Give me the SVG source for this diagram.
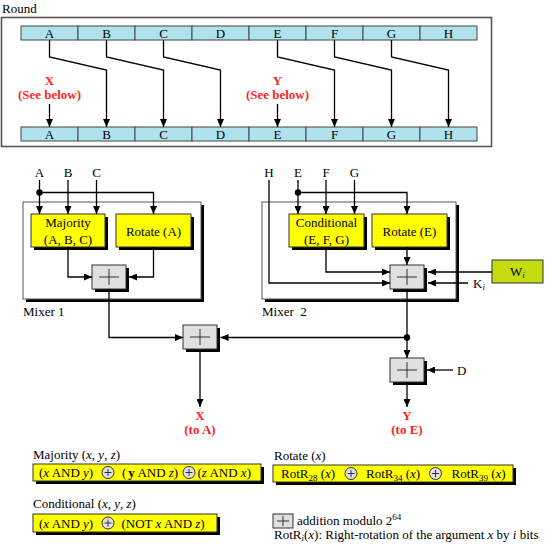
<svg xmlns="http://www.w3.org/2000/svg" width="550" height="553" viewBox="0 0 550 553">
<style>
text{font-family:"Liberation Serif","Times New Roman",serif;font-size:13px;fill:#000}
.c{text-anchor:middle}
.red{fill:#ff1f1f;font-weight:bold}
.reg{fill:#b0e2ec;stroke:#444;stroke-width:1}
.ln{fill:none;stroke:#000;stroke-width:1.3}
.arr{marker-end:url(#ah)}
.ybox{fill:#ffff00;stroke:#333;stroke-width:1}
.sh{fill:#000}
.pbox{fill:#e0e0e0;stroke:#333;stroke-width:1}
.cross{stroke:#333;stroke-width:1;fill:none}
.it{font-style:italic}
</style>
<defs>
<marker id="ah" markerUnits="userSpaceOnUse" markerWidth="8" markerHeight="7" refX="8" refY="3.5" orient="auto">
<path d="M0,0 L8,3.5 L0,7 z" fill="#000"/>
</marker>
<g id="plusSym">
<rect class="sh" x="3" y="3" width="34" height="24"/>
<rect class="pbox" x="0" y="0" width="34" height="24"/>
<path class="cross" d="M7,12 H27 M17,4 V20"/>
</g>
<g id="cplus">
<circle r="6" fill="#e0e0e0" stroke="#333" stroke-width="1"/>
<path d="M-3.5,0 H3.5 M0,-3.5 V3.5" stroke="#333" stroke-width="1"/>
</g>
</defs>

<!-- Round section -->
<g id="round">
<text x="2" y="13">Round</text>
<rect x="1.5" y="17.5" width="490" height="129" fill="#fff" stroke="#555" stroke-width="1.6"/>
</g>
<g id="reg-top">
<rect class="reg" x="21" y="26" width="57" height="14"/>
<rect class="reg" x="78" y="26" width="57" height="14"/>
<rect class="reg" x="135" y="26" width="57" height="14"/>
<rect class="reg" x="192" y="26" width="57" height="14"/>
<rect class="reg" x="249" y="26" width="57" height="14"/>
<rect class="reg" x="306" y="26" width="57" height="14"/>
<rect class="reg" x="363" y="26" width="57" height="14"/>
<rect class="reg" x="420" y="26" width="57" height="14"/>
<text class="c" x="49.5" y="37.5">A</text>
<text class="c" x="106.5" y="37.5">B</text>
<text class="c" x="163.5" y="37.5">C</text>
<text class="c" x="220.5" y="37.5">D</text>
<text class="c" x="277.5" y="37.5">E</text>
<text class="c" x="334.5" y="37.5">F</text>
<text class="c" x="391.5" y="37.5">G</text>
<text class="c" x="448.5" y="37.5">H</text>
</g>
<g id="reg-bottom">
<rect class="reg" x="21" y="127" width="57" height="14"/>
<rect class="reg" x="78" y="127" width="57" height="14"/>
<rect class="reg" x="135" y="127" width="57" height="14"/>
<rect class="reg" x="192" y="127" width="57" height="14"/>
<rect class="reg" x="249" y="127" width="57" height="14"/>
<rect class="reg" x="306" y="127" width="57" height="14"/>
<rect class="reg" x="363" y="127" width="57" height="14"/>
<rect class="reg" x="420" y="127" width="57" height="14"/>
<text class="c" x="49.5" y="138.5">A</text>
<text class="c" x="106.5" y="138.5">B</text>
<text class="c" x="163.5" y="138.5">C</text>
<text class="c" x="220.5" y="138.5">D</text>
<text class="c" x="277.5" y="138.5">E</text>
<text class="c" x="334.5" y="138.5">F</text>
<text class="c" x="391.5" y="138.5">G</text>
<text class="c" x="448.5" y="138.5">H</text>
</g>
<g id="round-labels">
<text class="c red" x="49.5" y="84.5">X</text>
<text class="c red" x="49.5" y="98.5">(See below)</text>
<text class="c red" x="277.5" y="84.5">Y</text>
<text class="c red" x="277.5" y="98.5">(See below)</text>
</g>

<!-- Mixer 1 -->
<g id="mixer1">
<rect class="sh" x="26" y="205" width="178" height="97"/>
<rect x="23" y="202" width="178" height="97" fill="#fff" stroke="#555" stroke-width="1"/>
<text x="23" y="316">Mixer 1</text>
</g>
<g id="majority">
<rect class="sh" x="34" y="217" width="74" height="33"/>
<rect class="ybox" x="31" y="214" width="74" height="33"/>
<text class="c" x="68" y="227">Majority</text>
<text class="c" x="68" y="243.5">(A, B, C)</text>
</g>
<g id="rotateA">
<rect class="sh" x="119" y="217" width="75" height="33"/>
<rect class="ybox" x="116" y="214" width="75" height="33"/>
<text class="c" x="153.5" y="235.5">Rotate (A)</text>
</g>
<g id="plus1"><use href="#plusSym" x="92" y="265"/></g>

<!-- Mixer 2 -->
<g id="mixer2">
<rect class="sh" x="265" y="205" width="194" height="97"/>
<rect x="262" y="202" width="194" height="97" fill="#fff" stroke="#555" stroke-width="1"/>
<text x="262" y="316" xml:space="preserve">Mixer  2</text>
</g>
<g id="conditional">
<rect class="sh" x="292" y="217" width="75" height="33"/>
<rect class="ybox" x="289" y="214" width="75" height="33"/>
<text class="c" x="326.5" y="227">Conditional</text>
<text class="c" x="326.5" y="243.5">(E, F, G)</text>
</g>
<g id="rotateE">
<rect class="sh" x="375" y="217" width="75" height="33"/>
<rect class="ybox" x="372" y="214" width="75" height="33"/>
<text class="c" x="409.5" y="235.5">Rotate (E)</text>
</g>
<g id="plus2"><use href="#plusSym" x="390" y="265"/></g>
<g id="wi">
<rect x="492" y="260" width="51" height="23" fill="#c4dc10" stroke="#333" stroke-width="1"/>
<text x="510" y="275.5">W<tspan class="it" font-size="9" dy="2">i</tspan></text>
</g>
<text id="ki" x="473" y="287.5">K<tspan class="it" font-size="9" dy="2">i</tspan></text>

<g id="plusX"><use href="#plusSym" x="183" y="325"/></g>
<g id="plusY"><use href="#plusSym" x="390" y="358"/></g>
<text id="dlabel" x="457" y="374.5">D</text>

<g id="inputs">
<text class="c" x="39.5" y="176.5">A</text>
<text class="c" x="68" y="176.5">B</text>
<text class="c" x="96.5" y="176.5">C</text>
<text class="c" x="269" y="176.5">H</text>
<text class="c" x="298" y="176.5">E</text>
<text class="c" x="326" y="176.5">F</text>
<text class="c" x="354.5" y="176.5">G</text>
</g>
<g id="outputs">
<text class="c red" x="200" y="420">X</text>
<text class="c red" x="200" y="434">(to A)</text>
<text class="c red" x="407" y="420">Y</text>
<text class="c red" x="407" y="434">(to E)</text>
</g>

<!-- Connectors -->
<g id="connectors">
<path class="ln arr" d="M49.5,40 V57 L106.5,70 V127"/>
<path class="ln arr" d="M106.5,40 V57 L163.5,70 V127"/>
<path class="ln arr" d="M163.5,40 V57 L220.5,70 V127"/>
<path class="ln arr" d="M277.5,40 V57 L334.5,70 V127"/>
<path class="ln arr" d="M334.5,40 V57 L391.5,70 V127"/>
<path class="ln arr" d="M391.5,40 V57 L448.5,70 V127"/>
<path class="ln arr" d="M49.5,104 V127"/>
<path class="ln arr" d="M277.5,104 V127"/>

<path class="ln arr" d="M39.5,180 V214"/>
<path class="ln arr" d="M68,180 V214"/>
<path class="ln arr" d="M96.5,180 V214"/>
<path class="ln arr" d="M39.5,192.5 H153.5 V214"/>
<circle cx="39.5" cy="192.5" r="3.2" fill="#000"/>
<path class="ln arr" d="M68,247 V277 H92"/>
<path class="ln arr" d="M153.5,247 V277 H129"/>
<path class="ln arr" d="M109,289 V337.5 H183"/>

<path class="ln arr" d="M298,180 V214"/>
<path class="ln arr" d="M326,180 V214"/>
<path class="ln arr" d="M354.5,180 V214"/>
<path class="ln arr" d="M298,192.5 H407 V214"/>
<circle cx="298" cy="192.5" r="3.2" fill="#000"/>
<path class="ln arr" d="M407,247 V265"/>
<path class="ln arr" d="M326,247 V272 H390"/>
<path class="ln arr" d="M269,180 V283 H390"/>
<path class="ln arr" d="M492,272 H428"/>
<path class="ln arr" d="M468,283 H428"/>
<path class="ln" d="M407,289 V337.5"/>
<circle cx="407" cy="337.5" r="3.2" fill="#000"/>
<path class="ln arr" d="M407,337.5 H220.5"/>
<path class="ln arr" d="M407,337.5 V358"/>
<path class="ln arr" d="M453,370 H427"/>
<path class="ln arr" d="M200,350 V407"/>
<path class="ln arr" d="M407,382 V407"/>
</g>

<!-- Legend -->
<g id="legend-majority">
<text x="33" y="459">Majority (<tspan class="it">x</tspan>, <tspan class="it">y</tspan>, <tspan class="it">z</tspan>)</text>
<rect class="sh" x="36" y="467" width="228" height="17"/>
<rect class="ybox" x="33" y="464" width="228" height="17"/>
<text x="39" y="477">(<tspan class="it">x</tspan> AND <tspan class="it">y</tspan>)</text>
<use href="#cplus" x="108" y="472.5"/>
<text x="122" y="477">(<tspan font-weight="bold" dx="2">y</tspan> AND <tspan class="it">z</tspan>)</text>
<use href="#cplus" x="189" y="472.5"/>
<text x="197.5" y="477">(<tspan class="it">z</tspan> AND <tspan class="it">x</tspan>)</text>
</g>
<g id="legend-conditional">
<text x="33" y="507.5">Conditional (<tspan class="it">x</tspan>, <tspan class="it">y</tspan>, <tspan class="it">z</tspan>)</text>
<rect class="sh" x="36" y="517" width="184" height="18"/>
<rect class="ybox" x="33" y="514" width="184" height="18"/>
<text x="39" y="527.5">(<tspan class="it">x</tspan> AND <tspan class="it">y</tspan>)</text>
<use href="#cplus" x="108" y="523"/>
<text x="121.5" y="527.5">(NOT <tspan class="it">x</tspan> AND <tspan class="it">z</tspan>)</text>
</g>
<g id="legend-rotate">
<text x="274" y="460">Rotate (<tspan class="it">x</tspan>)</text>
<rect class="sh" x="276" y="468" width="240" height="17"/>
<rect class="ybox" x="273" y="465" width="240" height="17"/>
<text x="281" y="477.5">RotR<tspan font-size="9" dy="3">28</tspan><tspan dy="-3"> (</tspan><tspan class="it">x</tspan>)</text>
<use href="#cplus" x="351" y="473.5"/>
<text x="366" y="477.5">RotR<tspan font-size="9" dy="3">34</tspan><tspan dy="-3"> (</tspan><tspan class="it">x</tspan>)</text>
<use href="#cplus" x="435.5" y="473.5"/>
<text x="451.5" y="477.5">RotR<tspan font-size="9" dy="3">39</tspan><tspan dy="-3"> (</tspan><tspan class="it">x</tspan>)</text>
</g>
<g id="legend-key">
<rect class="pbox" x="273" y="514" width="20" height="14"/>
<path class="cross" d="M277,521 H289 M283,516 V526"/>
<text x="297" y="525">addition modulo 2<tspan font-size="9" dy="-5">64</tspan></text>
<text x="274" y="538.5">RotR<tspan class="it" font-size="9" dy="2">i</tspan><tspan dy="-2">(</tspan><tspan class="it">x</tspan>): Right-rotation of the argument <tspan class="it">x</tspan> by <tspan class="it">i</tspan> bits</text>
</g>
</svg>
